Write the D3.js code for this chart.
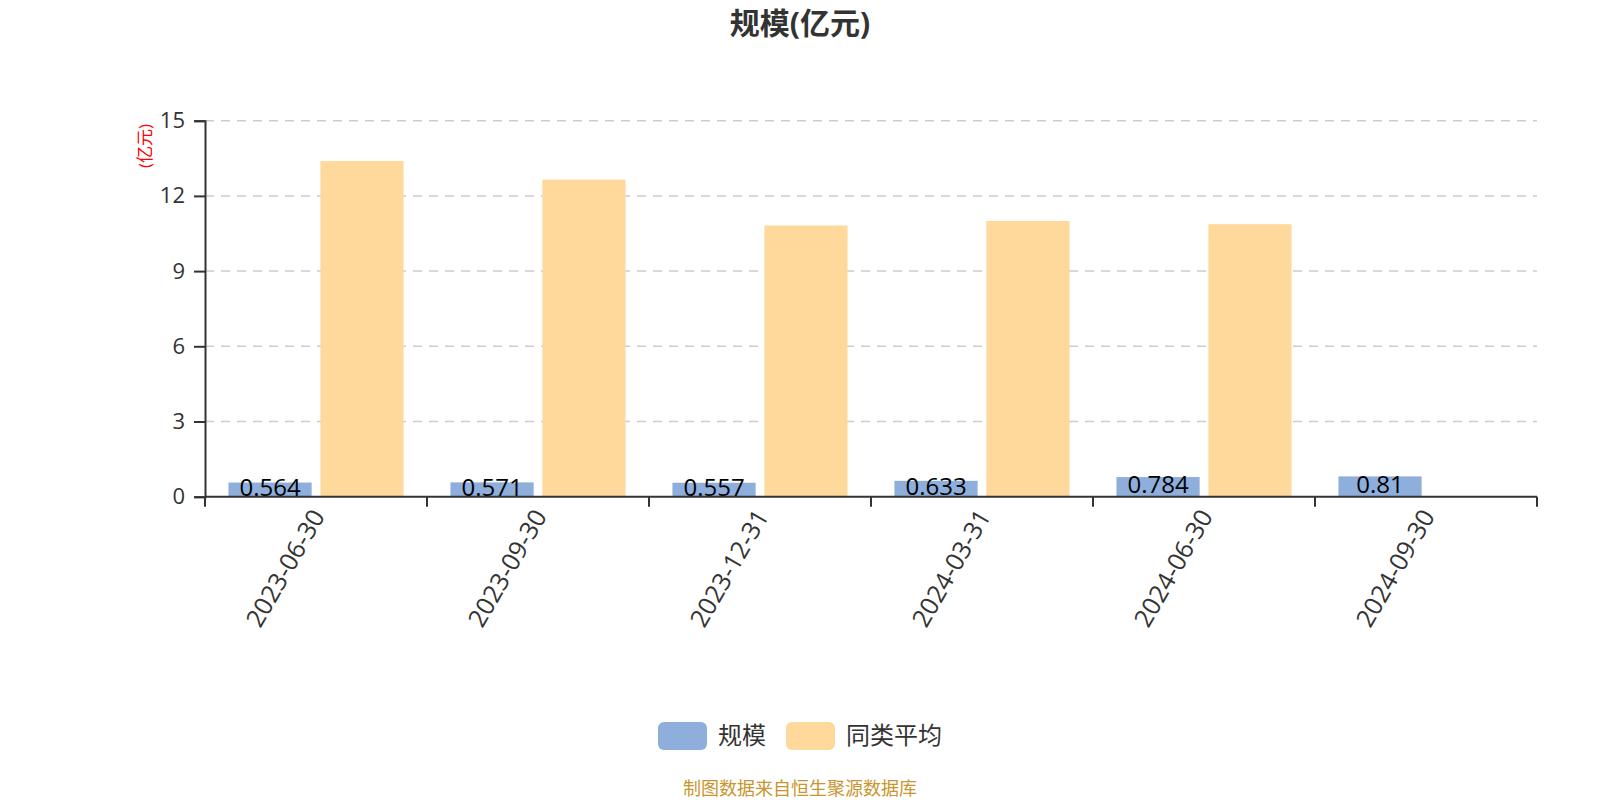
<!DOCTYPE html>
<html>
<head>
<meta charset="utf-8">
<script src="https://cdn.jsdelivr.net/npm/d3@7"></script>
<style>
  body { margin: 0; background: #fff; }
  svg text { font-family: "Open Sans", "Noto Sans CJK SC", sans-serif; }
</style>
</head>
<body>
<script>
//chart data
var categories = ["2023-06-30", "2023-09-30", "2023-12-31", "2024-03-31", "2024-06-30", "2024-09-30"];
var scaleValues = [0.564, 0.571, 0.557, 0.633, 0.784, 0.81];    //规模
var peerAverage = [13.39, 12.65, 10.82, 11.0, 10.87, null];      //同类平均
var yTicks = [0, 3, 6, 9, 12, 15];
var seriesNames = ["规模", "同类平均"];

window.onload = drawChart();

function drawChart(){
    var width = 1600,
        height = 800;

    var colors = ["#8eaedb", "#ffd99b"];

    var left = 205, right = 1537, top = 120.7, bottom = 496.7;

    var svg = d3.select("body")
        .append("svg")
        .attr("width", width)
        .attr("height", height);

    //title
    svg.append("text")
        .attr("x", 800)
        .attr("y", 34)
        .attr("text-anchor", "middle")
        .style("font-size", "30px")
        .style("font-weight", "bold")
        .style("fill", "#333")
        .text("规模(亿元)");

    var x = d3.scaleBand()
        .domain(categories)
        .range([left, right])
        .paddingInner(0)
        .paddingOuter(0);

    //two bars per category
    var inner = d3.scaleBand()
        .domain([0, 1])
        .range([0, x.bandwidth()])
        .paddingInner(0.095)
        .paddingOuter(0.255);

    var y = d3.scaleLinear()
        .domain([0, 15])
        .range([bottom, top]);

    //dashed grid lines
    svg.selectAll(".grid")
        .data(yTicks.filter(function(d){ return d > 0; }))
        .enter()
        .append("line")
        .attr("class", "grid")
        .attr("x1", left)
        .attr("x2", right)
        .attr("y1", function(d){ return y(d); })
        .attr("y2", function(d){ return y(d); })
        .style("stroke", "#cccccc")
        .style("stroke-width", 1.5)
        .style("stroke-dasharray", "9,7");

    //bars
    var groups = svg.selectAll(".cat")
        .data(categories)
        .enter()
        .append("g")
        .attr("class", "cat")
        .attr("transform", function(d){ return "translate(" + x(d) + ",0)"; });

    groups.append("rect")
        .attr("x", inner(0))
        .attr("width", inner.bandwidth())
        .attr("y", function(d, i){ return y(scaleValues[i]); })
        .attr("height", function(d, i){ return bottom - y(scaleValues[i]); })
        .style("fill", colors[0]);

    groups.filter(function(d, i){ return peerAverage[i] != null; })
        .append("rect")
        .attr("x", inner(1))
        .attr("width", inner.bandwidth())
        .attr("y", function(d){ return y(peerAverage[categories.indexOf(d)]); })
        .attr("height", function(d){ return bottom - y(peerAverage[categories.indexOf(d)]); })
        .style("fill", colors[1]);

    //value labels on blue bars
    groups.append("text")
        .attr("x", inner(0) + inner.bandwidth() / 2)
        .attr("y", function(d, i){ return (y(scaleValues[i]) + bottom) / 2 - 2; })
        .attr("dy", "0.35em")
        .attr("text-anchor", "middle")
        .style("font-size", "24px")
        .style("fill", "#000")
        .text(function(d, i){ return scaleValues[i]; });

    //y axis
    var yAxis = d3.axisLeft(y)
        .tickValues(yTicks)
        .tickSize(11)
        .tickPadding(9);

    var gy = svg.append("g")
        .attr("transform", "translate(" + left + ",0)")
        .call(yAxis);
    gy.select(".domain").style("stroke", "#333").style("stroke-width", 2);
    gy.selectAll(".tick line").style("stroke", "#333").style("stroke-width", 2);
    gy.selectAll(".tick text")
        .style("font-size", "22px")
        .style("fill", "#333");

    //x axis
    var ticksX = categories.map(function(d){ return x(d); }).concat([right]);
    svg.append("line")
        .attr("x1", left).attr("x2", right)
        .attr("y1", bottom).attr("y2", bottom)
        .style("stroke", "#333")
        .style("stroke-width", 2);
    svg.selectAll(".xtick")
        .data(ticksX)
        .enter()
        .append("line")
        .attr("class", "xtick")
        .attr("x1", function(d){ return d; })
        .attr("x2", function(d){ return d; })
        .attr("y1", bottom)
        .attr("y2", bottom + 10)
        .style("stroke", "#333")
        .style("stroke-width", 2);

    svg.selectAll(".xlabel")
        .data(categories)
        .enter()
        .append("text")
        .attr("class", "xlabel")
        .attr("transform", function(d){
            return "translate(" + (x(d) + x.bandwidth() / 2 + 2) + "," + (bottom + 15) + ") rotate(-60)";
        })
        .attr("text-anchor", "end")
        .attr("dy", "0.35em")
        .style("font-size", "25px")
        .style("fill", "#333")
        .text(function(d){ return d; });

    //y axis name
    svg.append("text")
        .attr("transform", "translate(145,146) rotate(-90)")
        .attr("text-anchor", "middle")
        .attr("dy", "0.35em")
        .style("font-size", "17px")
        .style("fill", "#ff0000")
        .text("(亿元)");

    //legend
    var legendX = [658, 786];
    var legend = svg.selectAll(".legend")
        .data(seriesNames)
        .enter()
        .append("g")
        .attr("class", "legend")
        .attr("transform", function(d, i){ return "translate(" + legendX[i] + ",722)"; });

    legend.append("rect")
        .attr("width", 49)
        .attr("height", 28)
        .attr("rx", 6)
        .style("fill", function(d, i){ return colors[i]; });

    legend.append("text")
        .attr("x", 60)
        .attr("y", 14)
        .attr("dy", "0.35em")
        .style("font-size", "24px")
        .style("fill", "#333")
        .text(function(d){ return d; });

    //footer
    svg.append("text")
        .attr("x", 800)
        .attr("y", 789)
        .attr("dy", "0.35em")
        .attr("text-anchor", "middle")
        .style("font-size", "18px")
        .style("fill", "#c8952e")
        .text("制图数据来自恒生聚源数据库");
}
</script>
</body>
</html>
